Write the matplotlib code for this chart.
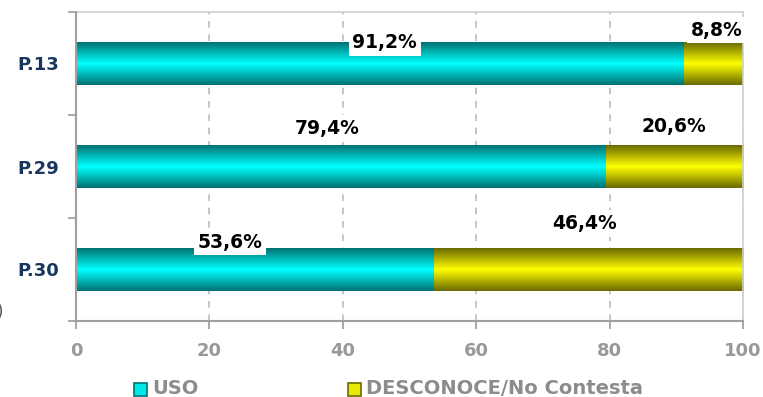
import numpy as np
import matplotlib.pyplot as plt
from matplotlib.colors import LinearSegmentedColormap
from matplotlib.patches import Rectangle

categories = ["P.13", "P.29", "P.30"]
uso = [91.2, 79.4, 53.6]
desconoce = [8.8, 20.6, 46.4]
series_names = ["USO", "DESCONOCE/No Contesta"]
xticks = [0, 20, 40, 60, 80, 100]

plt.rcParams['font.family'] = ['DejaVu Sans']

fig = plt.figure(figsize=(7.63, 3.97), dpi=100)
ax = fig.add_axes([76 / 763, 1 - 321 / 397, 667 / 763, 309 / 397])

cyan_map = LinearSegmentedColormap.from_list("cy", ["#007373", "#00ffff", "#007373"])
yell_map = LinearSegmentedColormap.from_list("ye", ["#6b6b00", "#ffff00", "#6b6b00"])
grad = np.linspace(0, 1, 64).reshape(-1, 1)

ypos = np.arange(len(categories))[::-1]
h = 0.41

for y, u, d in zip(ypos, uso, desconoce):
    ax.imshow(grad, cmap=cyan_map, aspect='auto', extent=(0, u, y - h / 2, y + h / 2), zorder=2)
    ax.imshow(grad, cmap=yell_map, aspect='auto', extent=(u, u + d, y - h / 2, y + h / 2), zorder=2)

# label placement tweaks (excel style auto-placement)
uso_dx = [0.7, -2, -3.7]
uso_dy = [0.0, 0.165, 0.06]
des_dx = [0.5, 0, -0.5]
des_dy = [0.12, 0.18, 0.24]

box = dict(boxstyle="square,pad=0.2", fc="white", ec="none")
for i, (y, u, d) in enumerate(zip(ypos, uso, desconoce)):
    ax.text(u / 2 + uso_dx[i], y + h / 2 + uso_dy[i], f"{u:.1f}%".replace(".", ","),
            ha="center", va="center", fontsize=13.5, fontweight="bold", color="black",
            bbox=box, zorder=4, clip_on=False)
    ax.text(u + d / 2 + des_dx[i], y + h / 2 + des_dy[i], f"{d:.1f}%".replace(".", ","),
            ha="center", va="center", fontsize=13.5, fontweight="bold", color="black",
            bbox=box, zorder=4, clip_on=False)

ax.set_xlim(0, 100)
ax.set_ylim(-0.5, len(categories) - 0.5)
ax.set_xticks(xticks)
ax.set_xticklabels([str(t) for t in xticks], fontsize=13, fontweight="bold", color="#999999")
ax.set_yticks(ypos)
ax.set_yticklabels(categories, fontsize=13, fontweight="bold", color="#17375e")
ax.set_yticks(np.arange(-0.5, len(categories), 1), minor=True)
ax.tick_params(axis="y", which="major", length=0, pad=12)
ax.tick_params(axis="y", which="minor", length=6, color="#999999", width=1.2)
ax.tick_params(axis="x", length=6, color="#999999", width=1.2, pad=9)

ax.xaxis.grid(True, linestyle=(0, (4, 4)), color="#bbbbbb", linewidth=1.2, zorder=0)
ax.set_axisbelow(True)
for s in ["left", "bottom"]:
    ax.spines[s].set_color("#a0a0a0")
    ax.spines[s].set_linewidth(1.5)
for s in ["top", "right"]:
    ax.spines[s].set_color("#d0d0d0")
    ax.spines[s].set_linewidth(1.2)
ax.spines["top"].set_zorder(1)

# legend drawn by hand at the bottom
leg_y = 1 - 389 / 397
for name, x0, fc, ec in zip(series_names, [134 / 763, 348 / 763], ["#00e8e8", "#e8e800"], ["#007373", "#6b6b00"]):
    fig.patches.append(Rectangle((x0, leg_y - 6.5 / 397), 13 / 763, 13 / 397, facecolor=fc,
                                 edgecolor=ec, linewidth=1.2, transform=fig.transFigure))
    fig.text(x0 + 18 / 763, leg_y, name, fontsize=14, fontweight="bold", color="#8c8c8c",
             va="center", ha="left")

fig.text(-0.004, 1 - 312 / 397, ")", fontsize=12, color="#555555", va="center")

fig.savefig("out.png", dpi=100)
